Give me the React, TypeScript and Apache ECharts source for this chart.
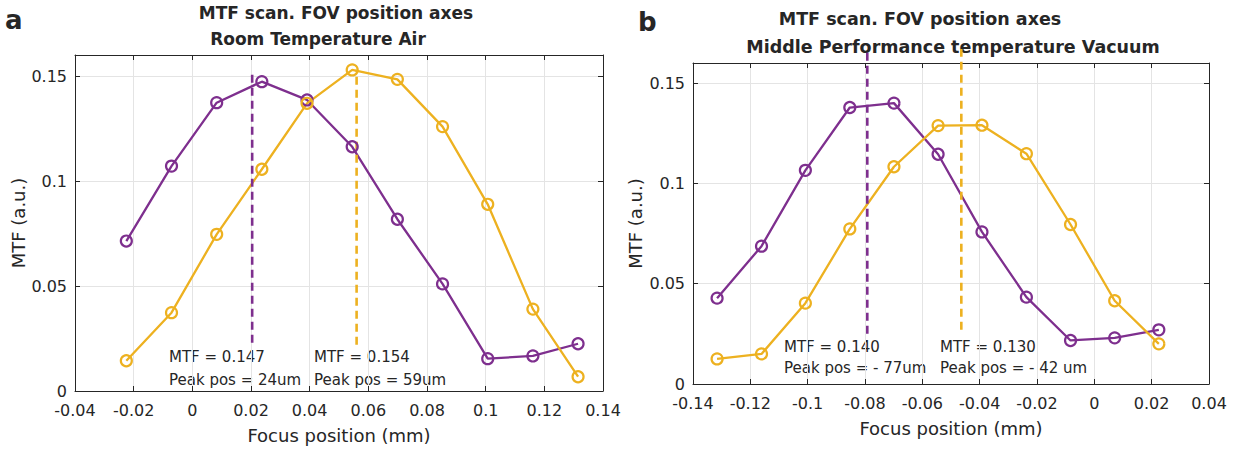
import React, { useEffect, useRef } from "react";
import * as echarts from "echarts";

// Panel a: Room Temperature Air
const focusA = [-0.0225, -0.0071, 0.0083, 0.0237, 0.0391, 0.0545, 0.0699, 0.0853, 0.1007, 0.1161, 0.1315];
const purpleA = [0.0714, 0.1071, 0.1373, 0.1473, 0.1386, 0.1163, 0.0818, 0.051, 0.0154, 0.0167, 0.0225];
const yellowA = [0.0144, 0.0373, 0.0746, 0.1056, 0.137, 0.1529, 0.1484, 0.1259, 0.0889, 0.039, 0.0068];
const peakPurpleA = [[0.0204, 0.023], [0.0204, 0.153]];
const peakYellowA = [[0.056, 0.022], [0.056, 0.153]];

// Panel b: Middle Performance temperature Vacuum
const focusB = [-0.1316, -0.1161, -0.1008, -0.0853, -0.0699, -0.0545, -0.0392, -0.0237, -0.0083, 0.0071, 0.0225];
const purpleB = [0.0428, 0.0687, 0.1065, 0.1378, 0.14, 0.1145, 0.0758, 0.0433, 0.0217, 0.023, 0.027];
const yellowB = [0.0125, 0.015, 0.0403, 0.0773, 0.1083, 0.1288, 0.129, 0.1148, 0.0795, 0.0415, 0.02];
const peakPurpleB = [[-0.0792, 0.025], [-0.0792, 0.167]];
const peakYellowB = [[-0.0464, 0.027], [-0.0464, 0.167]];

const titleA = ["MTF scan. FOV position axes", "Room Temperature Air"];
const titleB = ["MTF scan. FOV position axes", "Middle Performance temperature Vacuum"];
const notesA = [["MTF = 0.147", "Peak pos = 24um"], ["MTF = 0.154", "Peak pos = 59um"]];
const notesB = [["MTF = 0.140", "Peak pos = - 77um"], ["MTF = 0.130", "Peak pos = - 42 um"]];

const PURPLE = "#7E2F8E";
const YELLOW = "#EDB120";
const DARK = "#262626";
const FONT = "DejaVu Sans";

const zip = (xs: number[], ys: number[]) => xs.map((x, i) => [x, ys[i]]);
const fmt = (v: number) => {
  const r = Math.round(v * 1000) / 1000;
  return r === 0 ? "0" : String(r);
};

function mainX(grid: number, min: number, max: number) {
  return {
    gridIndex: grid, type: "value", min, max, interval: 0.02, position: "bottom",
    axisLine: { onZero: false, lineStyle: { color: DARK, width: 1 } },
    axisTick: { inside: true, length: 5, lineStyle: { color: DARK } },
    axisLabel: { formatter: fmt, color: DARK, fontSize: 16, fontFamily: FONT, margin: 11 },
    splitLine: { show: true, lineStyle: { color: "#e4e4e4" } },
    name: "Focus position (mm)", nameLocation: "middle", nameGap: 35,
    nameTextStyle: { fontSize: 18, color: DARK, fontFamily: FONT },
  };
}
function topX(grid: number, min: number, max: number) {
  return {
    gridIndex: grid, type: "value", min, max, interval: 0.02, position: "top",
    axisLine: { onZero: false, lineStyle: { color: DARK, width: 1 } },
    axisTick: { inside: true, length: 5, lineStyle: { color: DARK } },
    axisLabel: { show: false }, splitLine: { show: false },
  };
}
function leftY(grid: number, gap: number) {
  return {
    gridIndex: grid, type: "value", min: 0, max: 0.16, interval: 0.05, position: "left",
    axisLine: { show: true, onZero: false, lineStyle: { color: DARK, width: 1 } },
    axisTick: { show: true, inside: true, length: 5, lineStyle: { color: DARK } },
    axisLabel: { formatter: fmt, color: DARK, fontSize: 16, fontFamily: FONT, margin: 8, showMaxLabel: false },
    splitLine: { show: true, lineStyle: { color: "#e4e4e4" } },
    name: "MTF (a.u.)", nameLocation: "middle", nameGap: gap,
    nameTextStyle: { fontSize: 18, color: DARK, fontFamily: FONT },
  };
}
function rightY(grid: number) {
  return {
    gridIndex: grid, type: "value", min: 0, max: 0.16, interval: 0.05, position: "right",
    axisLine: { show: true, onZero: false, lineStyle: { color: DARK, width: 1 } },
    axisTick: { show: true, inside: true, length: 5, lineStyle: { color: DARK } },
    axisLabel: { show: false }, splitLine: { show: false },
  };
}
function dataSeries(data: number[][], color: string, xi: number, yi: number) {
  return {
    type: "line", xAxisIndex: xi, yAxisIndex: yi, data,
    symbol: "circle", symbolSize: 11,
    itemStyle: { color: "rgba(0,0,0,0)", borderColor: color, borderWidth: 2.2 },
    lineStyle: { color, width: 2.3 },
  };
}
function peakSeries(data: number[][], color: string, xi: number, yi: number) {
  return {
    type: "line", xAxisIndex: xi, yAxisIndex: yi, data, symbol: "none", clip: false,
    lineStyle: { color, width: 2.6, type: [8, 5] }, z: 3,
  };
}
function txt(text: string, x: number, y: number, size: number, bold = false, align = "left") {
  return {
    type: "text", x, y, silent: true,
    style: {
      text, fill: DARK, fontSize: size, fontFamily: FONT, fontWeight: bold ? "bold" : "normal",
      textAlign: align, textVerticalAlign: "middle",
    },
  };
}

export default function App() {
  const ref = useRef<HTMLDivElement>(null);
  useEffect(() => {
    document.body.style.margin = "0";
    if (!ref.current) return;
    const chart = echarts.init(ref.current, null, { renderer: "svg" });
    chart.setOption({
      animation: false,
      backgroundColor: "#ffffff",
      textStyle: { fontFamily: FONT },
      grid: [
        { left: 75, top: 55, width: 528, height: 336 },
        { left: 693, top: 63, width: 516, height: 321 },
      ],
      xAxis: [mainX(0, -0.04, 0.14), topX(0, -0.04, 0.14), mainX(1, -0.14, 0.04), topX(1, -0.14, 0.04)],
      yAxis: [leftY(0, 47), rightY(0), leftY(1, 49), rightY(1)],
      series: [
        dataSeries(zip(focusA, purpleA), PURPLE, 0, 0),
        dataSeries(zip(focusA, yellowA), YELLOW, 0, 0),
        peakSeries(peakPurpleA, PURPLE, 0, 0),
        peakSeries(peakYellowA, YELLOW, 0, 0),
        dataSeries(zip(focusB, purpleB), PURPLE, 2, 2),
        dataSeries(zip(focusB, yellowB), YELLOW, 2, 2),
        peakSeries(peakPurpleB, PURPLE, 2, 2),
        peakSeries(peakYellowB, YELLOW, 2, 2),
      ],
      graphic: [
        txt("a", 5, 20, 26, true),
        txt("b", 638, 22, 26, true),
        txt(titleA[0], 336, 13, 17, true, "center"),
        txt(titleA[1], 318, 39, 17, true, "center"),
        txt(titleB[0], 920, 19, 17.5, true, "center"),
        txt(titleB[1], 953, 47, 17.5, true, "center"),
        txt(notesA[0][0], 169, 357, 15),
        txt(notesA[0][1], 169, 380, 15),
        txt(notesA[1][0], 314, 357, 15),
        txt(notesA[1][1], 314, 380, 15),
        txt(notesB[0][0], 784, 347, 15),
        txt(notesB[0][1], 784, 368, 15),
        txt(notesB[1][0], 940, 347, 15),
        txt(notesB[1][1], 940, 368, 15),
      ],
    });
    return () => chart.dispose();
  }, []);
  return <div ref={ref} style={{ width: 1238, height: 451 }} />;
}
